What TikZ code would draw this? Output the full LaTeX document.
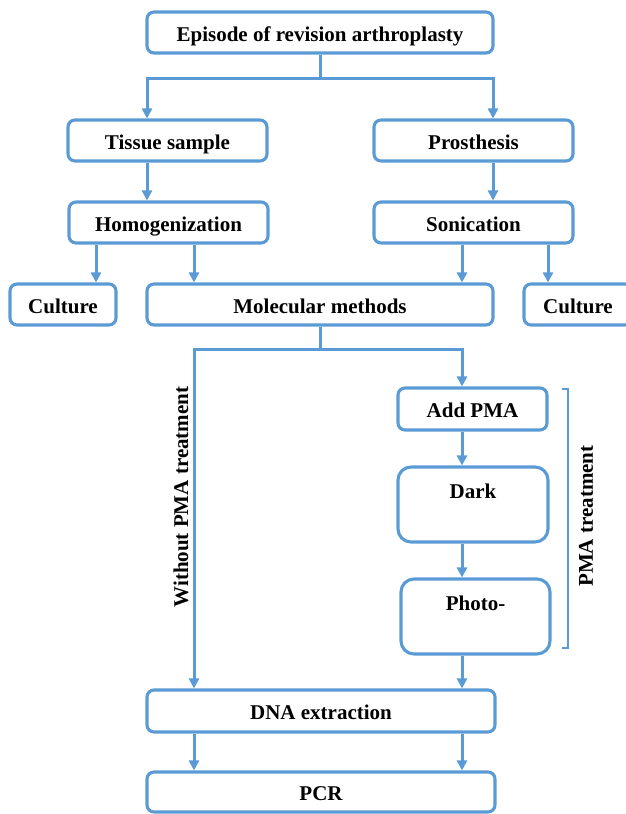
\documentclass[tikz,border=0pt]{standalone}
\usepackage{fontspec}
\setmainfont{Liberation Serif}
\usetikzlibrary{arrows.meta}
\definecolor{myblue}{RGB}{91,155,213}
\begin{document}
\begin{tikzpicture}[x=1pt,y=-1pt,
  box/.style={draw=myblue, line width=3.1pt, rounded corners=7pt, fill=white, inner sep=0pt,
    font=\fontsize{21}{24}\selectfont\bfseries, minimum height=41pt,
    text height=21pt, text depth=4pt},
  tallbox/.style={box, rounded corners=13pt, minimum height=75pt, text height=14pt, text depth=26pt},
  conn/.style={draw=myblue, line width=3pt},
  arr/.style={conn, -{Triangle[length=10pt,width=10pt]}},
  lbl/.style={font=\fontsize{21}{24}\selectfont\bfseries, rotate=90, inner sep=0pt}
]
\useasboundingbox (0,0) rectangle (626,814);
% column x positions
\coordinate (xA) at (147,0);
\coordinate (xB) at (493,0);
\coordinate (xC) at (96,0);
\coordinate (xL) at (194,0);
\coordinate (xR) at (462,0);
\coordinate (xD) at (548,0);

\node[box, minimum width=346pt] (ep) at (320,32.5) {Episode of revision arthroplasty};
\node[box, minimum width=199pt] (tis) at (167.5,140.5) {Tissue sample};
\node[box, minimum width=199pt] (pro) at (473.5,140.5) {Prosthesis};
\node[box, minimum width=199pt] (hom) at (168.5,222.5) {Homogenization};
\node[box, minimum width=199pt] (son) at (473.5,222.5) {Sonication};
\node[box, minimum width=106pt] (cul1) at (63,304.5) {Culture};
\node[box, minimum width=346pt] (mol) at (320,304.5) {Molecular methods};
\node[box, minimum width=108pt] (cul2) at (578,304.5) {Culture};
\node[box, minimum width=149pt, minimum height=42pt] (pma) at (472.5,409) {Add PMA};
\node[tallbox, minimum width=150pt] (dark) at (473,504.5) {Dark};
\node[tallbox, minimum width=149pt] (photo) at (475.5,616.5) {Photo-};
\node[box, minimum width=348pt, minimum height=42pt] (dna) at (321,711) {DNA extraction};
\node[box, minimum width=348pt, minimum height=40pt] (pcr) at (321,792) {PCR};

\coordinate (j1) at (320,78);
\coordinate (j2) at (320,349);
\draw[conn] (ep.south) -- (j1);
\draw[arr] (j1) -| (tis.north -| xA);
\draw[arr] (j1) -| (pro.north -| xB);
\draw[arr] (tis.south -| xA) -- (hom.north -| xA);
\draw[arr] (pro.south -| xB) -- (son.north -| xB);
\draw[arr] (hom.south -| xC) -- (cul1.north -| xC);
\draw[arr] (hom.south -| xL) -- (mol.north -| xL);
\draw[arr] (son.south -| xR) -- (mol.north -| xR);
\draw[arr] (son.south -| xD) -- (cul2.north -| xD);
\draw[conn] (mol.south) -- (j2);
\draw[arr] (j2) -| (dna.north -| xL);
\draw[arr] (j2) -| (pma.north -| xR);
\draw[arr] (pma.south -| xR) -- (dark.north -| xR);
\draw[arr] (dark.south -| xR) -- (photo.north -| xR);
\draw[arr] (photo.south -| xR) -- (dna.north -| xR);
\draw[arr] (dna.south -| xL) -- (pcr.north -| xL);
\draw[arr] (dna.south -| xR) -- (pcr.north -| xR);

% bracket
\coordinate (b1) at (562,389);
\coordinate (b2) at (568,389);
\coordinate (b3) at (568,648);
\coordinate (b4) at (562,648);
\draw[draw=myblue, line width=2.6pt] (b1) -- (b2) -- (b3) -- (b4);

\node[lbl] (wo) at (181,497) {Without PMA treatment};
\node[lbl] (pt) at (586,516) {PMA treatment};
\end{tikzpicture}
\end{document}
